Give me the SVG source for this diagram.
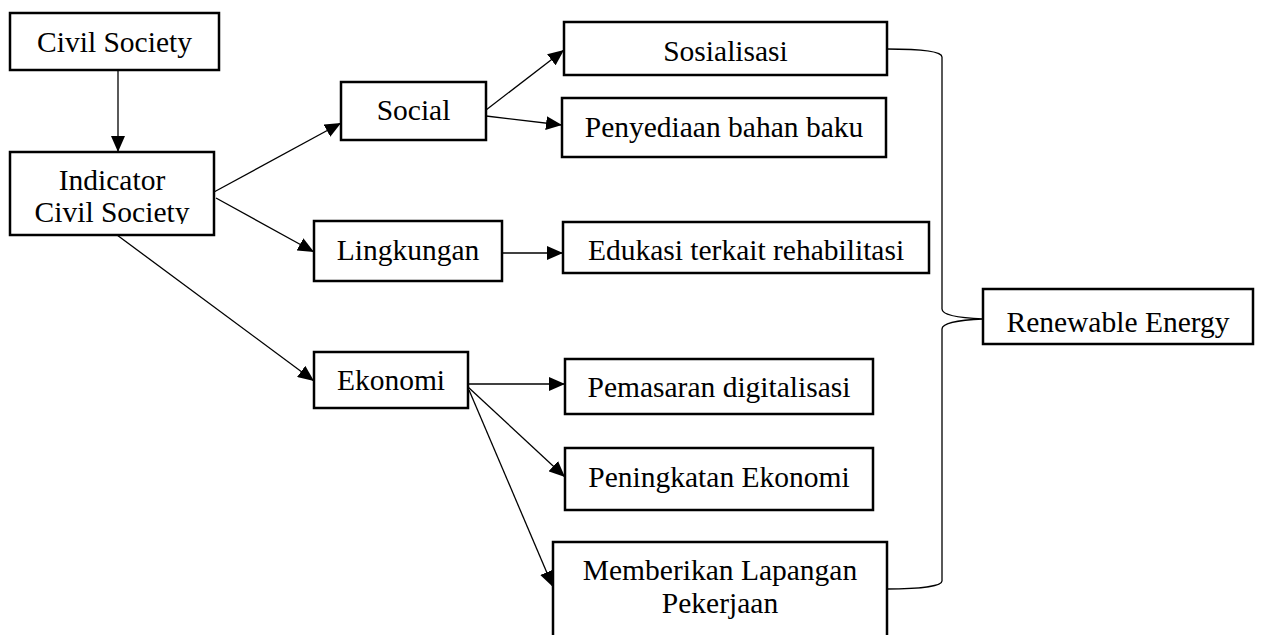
<svg xmlns="http://www.w3.org/2000/svg" width="1262" height="635" viewBox="0 0 1262 635">
<style>
.box{fill:#fff;stroke:#000;stroke-width:2.5}
.t{font-family:"Liberation Serif","Times New Roman",serif;font-size:29.5px;fill:#000;text-anchor:middle}
.c{fill:none;stroke:#000;stroke-width:1.3}
</style>
<defs>
<marker id="ah" markerUnits="userSpaceOnUse" markerWidth="18" markerHeight="14" refX="16" refY="7" orient="auto">
<path d="M0,0 L16,7 L0,14 Z" fill="#000"/>
</marker>
<clipPath id="clipInd"><rect x="10" y="152" width="204" height="72"/></clipPath>
</defs>
<rect width="1262" height="635" fill="#fff"/>
<g id="connectors">
<line class="c" x1="118" y1="70" x2="118" y2="152" marker-end="url(#ah)"/>
<line class="c" x1="214" y1="192" x2="341" y2="123" marker-end="url(#ah)"/>
<line class="c" x1="216" y1="198" x2="314" y2="252" marker-end="url(#ah)"/>
<line class="c" x1="117" y1="235" x2="314" y2="381" marker-end="url(#ah)"/>
<line class="c" x1="486" y1="110" x2="564" y2="50" marker-end="url(#ah)"/>
<line class="c" x1="486" y1="116" x2="562" y2="125" marker-end="url(#ah)"/>
<line class="c" x1="502" y1="253" x2="563" y2="253" marker-end="url(#ah)"/>
<line class="c" x1="468" y1="384" x2="565" y2="384" marker-end="url(#ah)"/>
<line class="c" x1="468" y1="387" x2="565" y2="477" marker-end="url(#ah)"/>
<line class="c" x1="469" y1="390" x2="553" y2="587" marker-end="url(#ah)"/>
<path class="c" d="M887,49 C920,49 942,51 942,57 L942,309 C942,315 960,318 983,319 C960,320 942,323 942,329 L942,581 C942,586 920,589 887,589"/>
</g>
<g id="civil-society"><rect class="box" x="10" y="13" width="209" height="57"/><text class="t" x="114.5" y="52">Civil Society</text></g>
<g id="indicator"><rect class="box" x="10" y="152" width="204" height="83"/><g clip-path="url(#clipInd)"><text class="t" x="112" y="190">Indicator</text><text class="t" x="112" y="222">Civil Society</text></g></g>
<g id="social"><rect class="box" x="341" y="82" width="145" height="58"/><text class="t" x="413.5" y="120">Social</text></g>
<g id="lingkungan"><rect class="box" x="314" y="221" width="188" height="60"/><text class="t" x="408" y="260">Lingkungan</text></g>
<g id="ekonomi"><rect class="box" x="314" y="352" width="154" height="56"/><text class="t" x="391" y="390">Ekonomi</text></g>
<g id="sosialisasi"><rect class="box" x="564" y="22" width="323" height="53"/><text class="t" x="725.5" y="61">Sosialisasi</text></g>
<g id="penyediaan"><rect class="box" x="562" y="98" width="324" height="59"/><text class="t" x="724" y="137">Penyediaan bahan baku</text></g>
<g id="edukasi"><rect class="box" x="563" y="222" width="366" height="51"/><text class="t" x="746" y="260">Edukasi terkait rehabilitasi</text></g>
<g id="pemasaran"><rect class="box" x="565" y="359" width="308" height="55"/><text class="t" x="719" y="397">Pemasaran digitalisasi</text></g>
<g id="peningkatan"><rect class="box" x="565" y="448" width="308" height="62"/><text class="t" x="719" y="487">Peningkatan Ekonomi</text></g>
<g id="memberikan"><rect class="box" x="553" y="542" width="334" height="110"/><text class="t" x="720" y="580">Memberikan Lapangan</text><text class="t" x="720" y="613">Pekerjaan</text></g>
<g id="renewable"><rect class="box" x="983" y="289" width="270" height="55"/><text class="t" x="1118" y="332">Renewable Energy</text></g>
</svg>
